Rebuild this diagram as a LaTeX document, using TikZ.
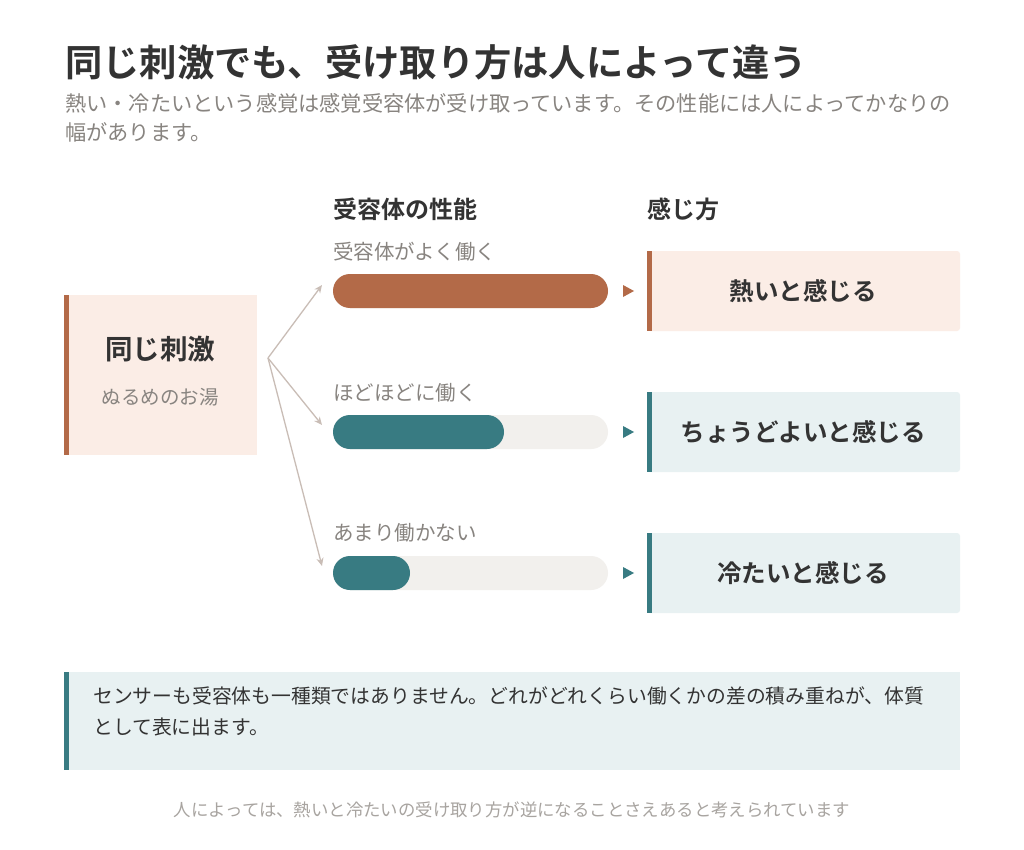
\documentclass[tikz,border=0pt]{standalone}
\usepackage{fontspec}
\setmainfont{Noto Sans CJK JP}[BoldFont={* Bold}]
\usetikzlibrary{positioning,arrows.meta}
\definecolor{ink}{HTML}{333333}
\definecolor{mute}{HTML}{888480}
\definecolor{faint}{HTML}{A8A4A0}
\definecolor{brick}{HTML}{B36A48}
\definecolor{teal}{HTML}{387B82}
\definecolor{warm}{HTML}{FBEDE6}
\definecolor{cool}{HTML}{E8F1F2}
\definecolor{track}{HTML}{F2F0ED}
\definecolor{link}{HTML}{C9BDB6}
\begin{document}
\begin{tikzpicture}[x=1pt,y=-1pt]
\tikzstyle{head}=[anchor=west,inner sep=0pt,text=ink,font=\fontsize{24}{28}\selectfont\bfseries]
\tikzstyle{lbl}=[anchor=west,inner sep=0pt,text=mute,font=\fontsize{20.5}{24}\selectfont]
\tikzstyle{feel}=[inner sep=0pt,text=ink,font=\fontsize{24.5}{28}\selectfont\bfseries]
\tikzstyle{bar}=[rounded corners=17pt]
\useasboundingbox[fill=white] (0,0) rectangle (1024,850);
% title
\node[anchor=west,inner sep=0pt,text=ink,font=\fontsize{37.3}{42}\selectfont\bfseries] (title) at (65,62) {同じ刺激でも、受け取り方は人によって違う};
\node[lbl,font=\fontsize{21.2}{29}\selectfont,anchor=north west,align=left] (lead) at (65,93) {熱い・冷たいという感覚は感覚受容体が受け取っています。その性能には人によってかなりの\\幅があります。};
% headers
\node[head] (hrec) at (333,209) {受容体の性能};
\node[head] (hfeel) at (647,209) {感じ方};
% stimulus
\fill[warm] (64,295) rectangle (257,455);
\fill[brick] (64,295) rectangle (69,455);
\node[inner sep=0pt,text=ink,font=\fontsize{27.5}{32}\selectfont\bfseries] (stim) at (160,349) {同じ刺激};
\node[inner sep=0pt,text=mute,font=\fontsize{19.5}{23}\selectfont] (bath) at (160,397) {ぬるめのお湯};
\coordinate (src) at (268,358);
\coordinate (t1) at (322,285);
\coordinate (t2) at (322,425);
\coordinate (t3) at (322,566);
\foreach \t in {t1,t2,t3}
  \draw[link,line width=1.3pt,-{Stealth[length=8pt,width=7pt]}] (src) -- (\t);
% bars
\node[lbl] (c1) at (333,252) {受容体がよく働く};
\node[lbl] (c2) at (333,393) {ほどほどに働く};
\node[lbl] (c3) at (333,533) {あまり働かない};
\foreach \y/\e/\c in {274/608/brick,415/504/teal,556/410/teal}{
  \fill[track,bar] (333,\y) rectangle (608,\y+34);
  \fill[\c,bar] (333,\y) rectangle (\e,\y+34);
  \fill[\c] (623,\y+11) -- (634,\y+17) -- (623,\y+23) -- cycle;
}
% feelings
\foreach \y/\bg/\c in {251/warm/brick,392/cool/teal,533/cool/teal}{
  \fill[\bg,rounded corners=3pt] (647,\y) rectangle (960,\y+80);
  \fill[\c] (647,\y) rectangle (652,\y+80);
}
\node[feel] (f1) at (803,291) {熱いと感じる};
\node[feel] (f2) at (803,432) {ちょうどよいと感じる};
\node[feel] (f3) at (803,573) {冷たいと感じる};
% note
\fill[cool] (64,672) rectangle (960,770);
\fill[teal] (64,672) rectangle (69,770);
\node[anchor=north west,inner sep=0pt,align=left,text=ink,font=\fontsize{19.8}{31}\selectfont] (note) at (93,687) {センサーも受容体も一種類ではありません。どれがどれくらい働くかの差の積み重ねが、体質\\として表に出ます。};
\node[inner sep=0pt,text=faint,font=\fontsize{17.4}{20}\selectfont] (foot) at (512,810) {人によっては、熱いと冷たいの受け取り方が逆になることさえあると考えられています};
\end{tikzpicture}
\end{document}
